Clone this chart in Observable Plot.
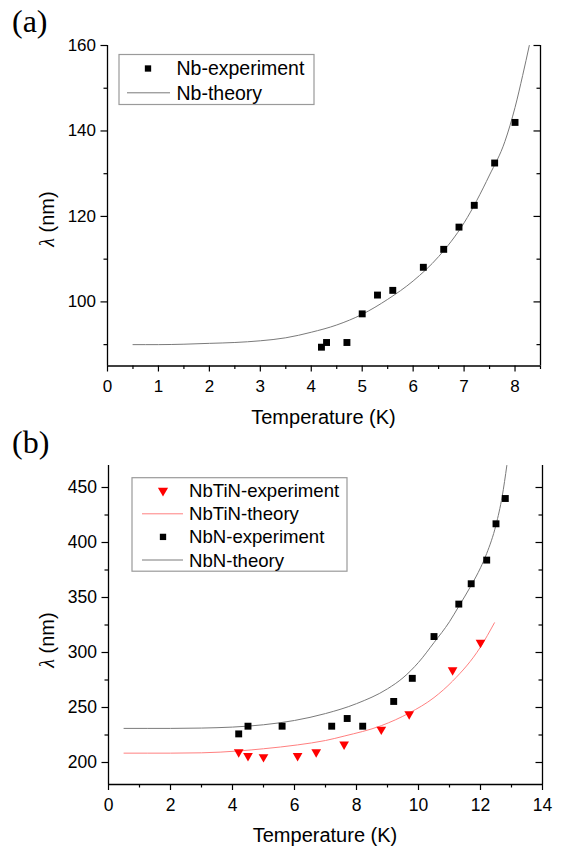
<!DOCTYPE html>
<html><head><meta charset="utf-8">
<script src="https://cdn.jsdelivr.net/npm/d3@7"></script>
<script src="https://cdn.jsdelivr.net/npm/@observablehq/plot@0.6"></script>
<style>
body{margin:0;background:#fff;}
#wrap{position:relative;width:563px;height:848px;background:#fff;overflow:hidden;}
#wrap svg{position:absolute;left:0;display:block;overflow:visible;}
</style></head><body><div id="wrap"></div>
<script>
// ---------- Panel (a): Nb ----------
const nbExpT = [4.2, 4.3, 4.7, 5.0, 5.3, 5.6, 6.2, 6.6, 6.9, 7.2, 7.6, 8.0];
const nbExpL = [89.4, 90.5, 90.5, 97.2, 101.6, 102.7, 108.1, 112.3, 117.5, 122.6, 132.5, 142.0];
const nbThT = [0.5, 1, 1.5, 2, 2.5, 3, 3.5, 4, 4.5, 5, 5.5, 6, 6.5, 7, 7.5, 7.8, 8.0, 8.15, 8.28];
const nbThL = [90, 90, 90.1, 90.3, 90.5, 90.9, 91.6, 92.9, 94.6, 97.1, 100.6, 104.9, 110.6, 118.5, 129.7, 137.5, 145.5, 153, 160];
const aXMajor = [0, 1, 2, 3, 4, 5, 6, 7, 8];
const aXMinor = [0.5, 1.5, 2.5, 3.5, 4.5, 5.5, 6.5, 7.5, 8.5];
const aYMajor = [100, 120, 140, 160];
const aYMinor = [90, 110, 130, 150];
const aXDomain = [0, 8.5];
const aYDomain = [85, 160];

// ---------- Panel (b): NbTiN and NbN ----------
const nbtinExpT = [4.2, 4.5, 5.0, 6.1, 6.7, 7.6, 8.8, 9.7, 11.1, 12.0];
const nbtinExpL = [209.5, 206, 205, 206, 209.5, 216.5, 230, 244, 284, 309];
const nbtinThT = [0.5, 2, 3, 4.2, 5, 6.1, 7, 7.6, 8.8, 9.7, 10.5, 11.1, 12.0, 12.45];
const nbtinThL = [208.5, 208.5, 208.8, 210.5, 212.5, 216, 220, 224, 233.5, 245, 259, 274, 305, 327];
const nbnExpT = [4.2, 4.5, 5.6, 7.2, 7.7, 8.2, 9.2, 9.8, 10.5, 11.3, 11.7, 12.2, 12.5, 12.8];
const nbnExpL = [226, 233, 233, 233, 240, 233, 255.5, 276.5, 314.5, 344, 362.5, 384, 417, 440];
const nbnThT = [0.5, 2, 3, 4, 5, 6, 7, 8, 9, 9.5, 10, 10.5, 11, 11.3, 11.7, 12, 12.2, 12.5, 12.7, 12.85];
const nbnThL = [231, 231, 231.3, 232.2, 234.3, 238.2, 244.5, 253.5, 267, 277, 291, 309, 328, 342, 361, 377, 390, 416, 442, 470];
const bXMajor = [0, 2, 4, 6, 8, 10, 12, 14];
const bXMinor = [1, 3, 5, 7, 9, 11, 13];
const bYMajor = [200, 250, 300, 350, 400, 450];
const bYMinor = [225, 275, 325, 375, 425];
const bXDomain = [0, 14];
const bYDomain = [180, 470];

const zip = (T, L) => T.map((t, i) => ({T: t, L: L[i]}));
const GRAY = "#7a7a7a", PINK = "#ff8080", RED = "#ff0000";
const SANS = "'Liberation Sans', Arial, sans-serif";
const SERIF = "'Liberation Serif', 'Times New Roman', serif";

function makePanel(c) {
  const W = 563;
  const plotW = W - c.mL - c.mR;
  const svg = Plot.plot({
    width: W, height: c.H,
    marginLeft: c.mL, marginRight: c.mR, marginTop: c.mT, marginBottom: c.mB,
    style: {fontFamily: SANS, fontSize: c.tickFont + "px", color: "black", background: "transparent", overflow: "visible"},
    x: {domain: c.xDom},
    y: {domain: c.yDom},
    marks: [
      ...c.marks,
      Plot.ruleX([c.xDom[0], c.xDom[1]], {stroke: "black", strokeWidth: 1.3}),
      Plot.ruleY([c.yDom[0]], {stroke: "black", strokeWidth: 1.3}),
      Plot.axisX(c.xMaj, {tickSize: 6, tickPadding: 8, label: null, strokeWidth: 1.2}),
      Plot.axisX(c.xMin, {tickSize: 3.5, tickFormat: () => "", label: null, strokeWidth: 1.2}),
      Plot.axisY(c.yMaj, {tickSize: 6.5, tickPadding: 5, label: null, strokeWidth: 1.2}),
      Plot.axisY(c.yMin, {tickSize: 3.5, tickFormat: () => "", label: null, strokeWidth: 1.2}),
      Plot.tickY(c.yMaj, {y: d => d, insetLeft: plotW - 6.5, stroke: "black", strokeWidth: 1.2}),
      Plot.tickY(c.yMin, {y: d => d, insetLeft: plotW - 3.5, stroke: "black", strokeWidth: 1.2})
    ]
  });
  svg.style.top = c.top + "px";
  const s = d3.select(svg);
  // panel tag
  s.append("text").attr("x", 12).attr("y", c.tagY).attr("text-anchor", "start").attr("font-family", SERIF)
    .attr("font-size", 32).attr("fill", "black").text(c.tag);
  // y label
  const yl = s.append("text").attr("transform", `translate(54,${c.yLabelY}) rotate(-90)`)
    .attr("text-anchor", "middle").attr("font-size", 20).attr("fill", "black");
  yl.append("tspan").attr("font-family", SERIF).attr("font-style", "italic").text("λ");
  yl.append("tspan").attr("font-family", SANS).text(" (nm)");
  // x label
  s.append("text").attr("x", c.mL + plotW / 2).attr("y", c.xLabelY).attr("text-anchor", "middle")
    .attr("font-family", SANS).attr("font-size", 20).attr("fill", "black").text("Temperature (K)");
  // legend
  const L = c.legend;
  const g = s.append("g");
  g.append("rect").attr("x", L.x).attr("y", L.y).attr("width", L.w).attr("height", L.h)
    .attr("fill", "white").attr("stroke", "#9a9a9a").attr("stroke-width", 1.2);
  L.items.forEach((it, i) => {
    const cy = L.y + L.first + i * L.step;
    if (it.kind === "line") {
      g.append("line").attr("x1", L.lx1).attr("x2", L.lx2).attr("y1", cy).attr("y2", cy)
        .attr("stroke", it.color).attr("stroke-width", 1);
    } else {
      const sym = it.kind === "square" ? d3.symbolSquare : d3.symbolTriangle;
      g.append("path").attr("d", d3.symbol(sym, it.size)())
        .attr("transform", `translate(${L.sx},${cy}) rotate(${it.kind === "triangle" ? 180 : 0})`)
        .attr("fill", it.color);
    }
    g.append("text").attr("x", L.tx).attr("y", cy).attr("dy", "0.35em").attr("text-anchor", "start")
      .attr("font-family", SANS).attr("font-size", L.font).attr("fill", "black").text(it.label);
  });
  document.getElementById("wrap").appendChild(svg);
}

makePanel({
  top: 0, H: 430, mL: 107, mR: 23, mT: 45, mB: 64.5,
  xDom: aXDomain, yDom: aYDomain, xMaj: aXMajor, xMin: aXMinor, yMaj: aYMajor, yMin: aYMinor,
  tickFont: 17, tag: "(a)", tagY: 32, yLabelY: 219, xLabelY: 424,
  marks: [
    Plot.line(zip(nbThT, nbThL), {x: "T", y: "L", stroke: GRAY, strokeWidth: 1, curve: "monotone-x", clip: true}),
    Plot.dot(zip(nbExpT, nbExpL), {x: "T", y: "L", symbol: "square", r: 3.9, fill: "black", stroke: "none"})
  ],
  legend: {x: 119, y: 54.5, w: 195, h: 50, first: 14, step: 24.3, sx: 148, lx1: 127, lx2: 170, tx: 176.5, font: 19.5,
    items: [
      {kind: "square", color: "black", size: 40, label: "Nb-experiment"},
      {kind: "line", color: GRAY, label: "Nb-theory"}
    ]}
});

makePanel({
  top: 420, H: 428, mL: 108, mR: 21, mT: 45, mB: 64,
  xDom: bXDomain, yDom: bYDomain, xMaj: bXMajor, xMin: bXMinor, yMaj: bYMajor, yMin: bYMinor,
  tickFont: 17.5, tag: "(b)", tagY: 33, yLabelY: 220, xLabelY: 422,
  marks: [
    Plot.line(zip(nbtinThT, nbtinThL), {x: "T", y: "L", stroke: PINK, strokeWidth: 1, curve: "monotone-x", clip: true}),
    Plot.line(zip(nbnThT, nbnThL), {x: "T", y: "L", stroke: GRAY, strokeWidth: 1, curve: "monotone-x", clip: true}),
    Plot.dot(zip(nbtinExpT, nbtinExpL), {x: "T", y: "L", symbol: "triangle", rotate: 180, r: 3.6, fill: RED, stroke: "none"}),
    Plot.dot(zip(nbnExpT, nbnExpL), {x: "T", y: "L", symbol: "square", r: 3.9, fill: "black", stroke: "none"})
  ],
  legend: {x: 132, y: 57.7, w: 215, h: 93.5, first: 13, step: 23.1, sx: 163, lx1: 142, lx2: 183, tx: 189, font: 18.6,
    items: [
      {kind: "triangle", color: RED, size: 45, label: "NbTiN-experiment"},
      {kind: "line", color: PINK, label: "NbTiN-theory"},
      {kind: "square", color: "black", size: 40, label: "NbN-experiment"},
      {kind: "line", color: GRAY, label: "NbN-theory"}
    ]}
});
</script></body></html>
